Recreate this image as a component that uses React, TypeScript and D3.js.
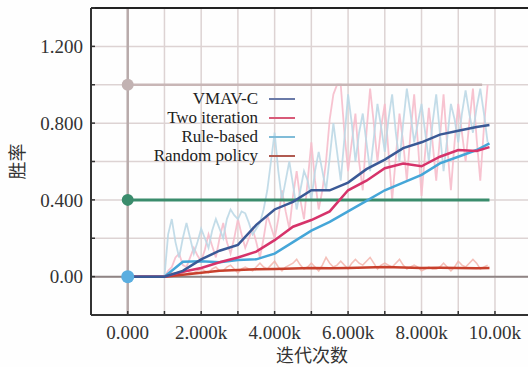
import React from "react";
import * as d3 from "d3";

// ---- data (x in thousands of iterations) ----
const smoothX = [0, 1.0, 1.5, 2.0, 2.5, 3.0, 3.5, 4.0, 4.5, 5.0, 5.5, 6.0, 6.5, 7.0, 7.5, 8.0, 8.5, 9.0, 9.5, 9.85];
const vmavC = [0, 0, 0.03, 0.09, 0.135, 0.165, 0.27, 0.35, 0.39, 0.45, 0.45, 0.49, 0.56, 0.61, 0.67, 0.7, 0.74, 0.76, 0.78, 0.79];
const twoIter = [0, 0, 0.025, 0.045, 0.075, 0.1, 0.13, 0.19, 0.26, 0.295, 0.34, 0.45, 0.5, 0.565, 0.59, 0.575, 0.625, 0.66, 0.655, 0.675];
const ruleBased = [0, 0, 0.078, 0.08, 0.075, 0.087, 0.09, 0.12, 0.18, 0.24, 0.285, 0.34, 0.395, 0.45, 0.49, 0.53, 0.59, 0.625, 0.66, 0.695];
const randomPol = [0, 0, 0.01, 0.02, 0.03, 0.035, 0.038, 0.04, 0.042, 0.045, 0.044, 0.045, 0.047, 0.05, 0.048, 0.045, 0.046, 0.045, 0.044, 0.045];

const rawX = [1.0, 1.1, 1.2, 1.3, 1.4, 1.5, 1.6, 1.7, 1.8, 1.9, 2.0, 2.1, 2.2, 2.3, 2.4, 2.5, 2.6, 2.7, 2.8, 2.9, 3.0, 3.1, 3.2, 3.3, 3.4, 3.5, 3.6, 3.7, 3.8, 3.9, 4.0, 4.1, 4.2, 4.3, 4.4, 4.5, 4.6, 4.7, 4.8, 4.9, 5.0, 5.1, 5.2, 5.3, 5.4, 5.5, 5.6, 5.7, 5.8, 5.9, 6.0, 6.1, 6.2, 6.3, 6.4, 6.5, 6.6, 6.7, 6.8, 6.9, 7.0, 7.1, 7.2, 7.3, 7.4, 7.5, 7.6, 7.7, 7.8, 7.9, 8.0, 8.1, 8.2, 8.3, 8.4, 8.5, 8.6, 8.7, 8.8, 8.9, 9.0, 9.1, 9.2, 9.3, 9.4, 9.5, 9.6, 9.7, 9.8];
const twoIterRaw = [0, 0.03, 0.05, 0.1, 0.12, 0.06, 0.05, 0.1, 0.15, 0.11, 0.08, 0.14, 0.22, 0.16, 0.1, 0.2, 0.28, 0.18, 0.12, 0.2, 0.3, 0.22, 0.15, 0.2, 0.25, 0.18, 0.1, 0.2, 0.32, 0.26, 0.2, 0.3, 0.45, 0.34, 0.25, 0.42, 0.55, 0.4, 0.3, 0.5, 0.7, 0.5, 0.35, 0.45, 0.6, 0.82, 0.95, 1.0, 1.0, 0.75, 0.55, 0.7, 0.85, 0.6, 0.45, 0.75, 0.98, 0.8, 0.6, 0.78, 0.9, 0.65, 0.4, 0.62, 0.85, 0.7, 0.5, 0.75, 0.95, 0.7, 0.42, 0.65, 0.88, 0.7, 0.5, 0.72, 0.95, 0.68, 0.45, 0.7, 0.9, 0.75, 0.6, 0.8, 0.98, 0.72, 0.5, 0.78, 1.0];
const vmavRaw = [0, 0.22, 0.3, 0.18, 0.1, 0.2, 0.28, 0.2, 0.12, 0.18, 0.25, 0.2, 0.15, 0.24, 0.3, 0.25, 0.2, 0.3, 0.35, 0.32, 0.3, 0.34, 0.33, 0.28, 0.22, 0.25, 0.28, 0.35, 0.45, 0.6, 0.75, 0.55, 0.4, 0.5, 0.6, 0.48, 0.35, 0.45, 0.55, 0.5, 0.4, 0.55, 0.65, 0.55, 0.45, 0.62, 0.8, 0.65, 0.5, 0.72, 0.95, 0.8, 0.6, 0.75, 0.85, 0.7, 0.55, 0.72, 0.9, 0.78, 0.65, 0.82, 0.95, 0.75, 0.6, 0.8, 0.98, 0.85, 0.7, 0.8, 0.9, 0.75, 0.6, 0.8, 0.95, 0.75, 0.55, 0.72, 0.9, 0.82, 0.7, 0.85, 0.97, 0.85, 0.75, 0.88, 0.98, 0.85, 0.7];
const randomRaw = [0, 0.01, 0.02, 0.015, 0.01, 0.02, 0.03, 0.02, 0.02, 0.03, 0.04, 0.03, 0.02, 0.04, 0.05, 0.03, 0.03, 0.05, 0.06, 0.04, 0.02, 0.04, 0.05, 0.04, 0.03, 0.05, 0.07, 0.05, 0.04, 0.06, 0.08, 0.05, 0.03, 0.05, 0.06, 0.07, 0.09, 0.06, 0.04, 0.05, 0.07, 0.05, 0.03, 0.06, 0.1, 0.07, 0.05, 0.06, 0.08, 0.06, 0.04, 0.07, 0.09, 0.07, 0.06, 0.08, 0.1, 0.07, 0.04, 0.06, 0.07, 0.06, 0.05, 0.07, 0.09, 0.06, 0.04, 0.05, 0.06, 0.05, 0.03, 0.04, 0.05, 0.04, 0.04, 0.05, 0.07, 0.05, 0.03, 0.05, 0.08, 0.06, 0.05, 0.07, 0.09, 0.07, 0.04, 0.05, 0.06];

const refLevels = [1.0, 0.4];
const refEnd = [9.65, 9.85];

const legendNames = ["VMAV-C", "Two iteration", "Rule-based", "Random policy"];
const yTickVals = [0, 0.4, 0.8, 1.2];
const yTickLabels = ["0.00", "0.400", "0.800", "1.200"];
const xTickVals = [0, 2, 4, 6, 8, 10];
const xTickLabels = ["0.000", "2.000k", "4.000k", "6.000k", "8.000k", "10.00k"];

const W = 528, H = 367;
const L = 91, R = 531.7, T = 8, B = 315;

export default function App() {
  const x = d3.scaleLinear().domain([-1, 11]).range([L, R]);
  const y = d3.scaleLinear().domain([-0.2, 1.4]).range([B, T]);
  const line = d3.line<[number, number]>().x((d) => x(d[0])).y((d) => y(d[1]));
  const zip = (xs: number[], ys: number[]) => xs.map((v, i) => [v, ys[i]] as [number, number]);

  const serif = "'Liberation Serif', 'DejaVu Serif', serif";
  const cjk = "'Noto Sans CJK SC', sans-serif";

  const gridY = d3.range(-0.2, 1.41, 0.2).map((v) => +v.toFixed(2));
  const gridX = d3.range(-1, 11.01, 1);

  const legendColors = ["#6a7aa8", "#d85a78", "#80bcd8", "#b05a50"];
  const legendBase = [104, 123, 142, 161];

  return (
    <svg width={W} height={H} style={{ position: "absolute", left: 0, top: 0, background: "#fefefe" }}>
      <rect x={0} y={0} width={W} height={H} fill="#fefefe" />
      {/* grid */}
      {gridY.map((v, i) => (
        <line key={"gy" + i} x1={L} x2={R} y1={y(v)} y2={y(v)} stroke="#ddd3d3" strokeWidth={1.5} />
      ))}
      {gridX.map((v, i) => (
        <line key={"gx" + i} x1={x(v)} x2={x(v)} y1={T} y2={B} stroke="#ddd3d3" strokeWidth={1.5} />
      ))}
      {/* zero lines */}
      <line x1={L} x2={R} y1={y(0)} y2={y(0)} stroke="#8f8484" strokeWidth={2} />
      <line x1={x(0)} x2={x(0)} y1={T} y2={B} stroke="#b8aaaa" strokeWidth={2.5} />

      {/* raw noisy curves */}
      <path d={line(zip(rawX, randomRaw)) || ""} fill="none" stroke="#f2b0a8" strokeWidth={1.6} opacity={0.8} />
      <path d={line(zip(rawX, twoIterRaw)) || ""} fill="none" stroke="#f6bccb" strokeWidth={1.8} opacity={0.9} />
      <path d={line(zip(rawX, vmavRaw)) || ""} fill="none" stroke="#bcd8e6" strokeWidth={1.8} opacity={0.9} />

      {/* reference levels */}
      <line x1={x(0)} x2={x(refEnd[0])} y1={y(refLevels[0])} y2={y(refLevels[0])} stroke="#c8b6b6" strokeWidth={2.5} />
      <line x1={x(0)} x2={x(refEnd[1])} y1={y(refLevels[1])} y2={y(refLevels[1])} stroke="#3a8c6c" strokeWidth={3} />

      {/* smoothed curves */}
      <path d={line(zip(smoothX, randomPol)) || ""} fill="none" stroke="#c8402c" strokeWidth={2.5} />
      <path d={line(zip(smoothX, ruleBased)) || ""} fill="none" stroke="#45a6d8" strokeWidth={2.5} />
      <path d={line(zip(smoothX, twoIter)) || ""} fill="none" stroke="#d6336a" strokeWidth={2.5} />
      <path d={line(zip(smoothX, vmavC)) || ""} fill="none" stroke="#3a5996" strokeWidth={2.5} />

      {/* dots */}
      <circle cx={x(0)} cy={y(refLevels[0])} r={6} fill="#c2b2b2" />
      <circle cx={x(0)} cy={y(refLevels[1])} r={6} fill="#3a8c6c" />
      <circle cx={x(0)} cy={y(0)} r={6.5} fill="#5aaee0" />

      {/* frame */}
      <line x1={L} x2={L} y1={T} y2={B} stroke="#333" strokeWidth={2} />
      <line x1={L} x2={R} y1={T} y2={T} stroke="#222" strokeWidth={2} />
      <line x1={L} x2={R} y1={B} y2={B} stroke="#333" strokeWidth={2} />

      {/* ticks */}
      {gridY.map((v, i) => (
        <line key={"ty" + i} x1={L} x2={L + 4} y1={y(v)} y2={y(v)} stroke="#333" strokeWidth={1.5} />
      ))}
      {gridX.map((v, i) => (
        <line key={"tx" + i} x1={x(v)} x2={x(v)} y1={B} y2={B - 4} stroke="#333" strokeWidth={1.5} />
      ))}

      {/* tick labels */}
      {yTickVals.map((v, i) => (
        <text key={"yl" + i} x={83} y={y(v)} dy="0.35em" textAnchor="end" fontFamily={serif} fontSize={19} fill="#333">
          {yTickLabels[i]}
        </text>
      ))}
      {xTickVals.map((v, i) => (
        <text key={"xl" + i} x={x(v)} y={339} textAnchor="middle" fontFamily={serif} fontSize={19} fill="#333">
          {xTickLabels[i]}
        </text>
      ))}

      {/* axis titles */}
      <text x={312} y={362} textAnchor="middle" fontFamily={cjk} fontSize={18} fill="#333">迭代次数</text>
      <text transform={`translate(24,${(T + B) / 2}) rotate(-90)`} textAnchor="middle" fontFamily={cjk} fontSize={18} fill="#333">胜率</text>

      {/* legend */}
      {legendNames.map((n, i) => (
        <g key={"lg" + i}>
          <text x={258} y={legendBase[i]} textAnchor="end" fontFamily={serif} fontSize={17} fill="#222">{n}</text>
          <line x1={269} x2={295} y1={legendBase[i] - 5} y2={legendBase[i] - 5} stroke={legendColors[i]} strokeWidth={2} />
        </g>
      ))}
    </svg>
  );
}
